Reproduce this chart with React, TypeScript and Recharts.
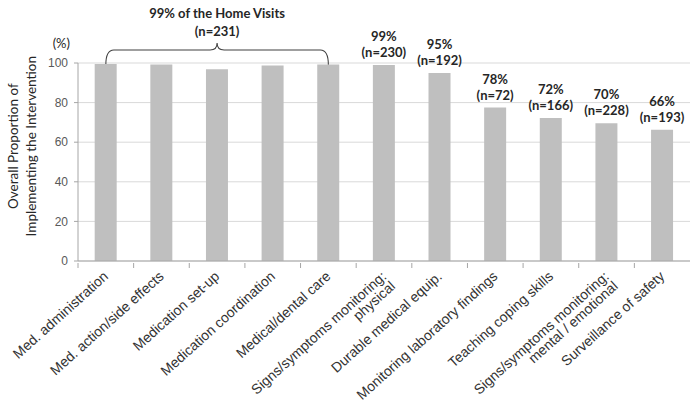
import React from 'react';
import { BarChart, Bar, XAxis, YAxis, CartesianGrid, LabelList, ReferenceArea } from 'recharts';

const categories = [
  'Med. administration',
  'Med. action/side effects',
  'Medication set-up',
  'Medication coordination',
  'Medical/dental care',
  'Signs/symptoms monitoring:\nphysical',
  'Durable medical equip.',
  'Monitoring laboratory findings',
  'Teaching coping skills',
  'Signs/symptoms monitoring:\nmental / emotional',
  'Surveillance of safety',
];
const values = [99.5, 99.3, 96.8, 98.7, 99.3, 99, 95, 77.5, 72.2, 69.6, 66.3];
const pctLabels = ['', '', '', '', '', '99%', '95%', '78%', '72%', '70%', '66%'];
const nLabels = ['', '', '', '', '', '(n=230)', '(n=192)', '(n=72)', '(n=166)', '(n=228)', '(n=193)'];
const yTicks = [0, 20, 40, 60, 80, 100];
const groupTitle = '99% of the Home Visits';
const groupN = '(n=231)';
const groupFirst = 0;
const groupLast = 4;
const yTitleLines = ['Overall Proportion of', 'Implementing the Intervention'];
const yUnit = '(%)';

const data = categories.map((name, i) => ({ name, value: values[i], pct: pctLabels[i], n: nLabels[i] }));

const BOLD_FONT = 'Lato, "Open Sans", sans-serif';
const AXIS_FONT = '"Liberation Sans", Arial, sans-serif';

const XTick = (props: any) => {
  const { x, y, payload } = props;
  const half = payload && payload.offset ? payload.offset : 27.8;
  const lines = String(payload.value).split('\n');
  const ax = x;
  const ay = y + 11;
  return (
    <g>
      <line x1={x - half} x2={x - half} y1={y} y2={y + 5} stroke="#a6a6a6" strokeWidth={1} />
      <text
        transform={`rotate(-42, ${ax}, ${ay})`}
        x={ax}
        y={ay}
        textAnchor="end"
        fontFamily={AXIS_FONT}
        fontSize={14}
        fill="#333333"
      >
        {lines.map((l, i) => (
          <tspan key={i} x={ax} dy={i === 0 ? '0.35em' : '0.95em'}>{l}</tspan>
        ))}
      </text>
    </g>
  );
};

const BarLabelPct = (props: any) => {
  const { x, y, width, value } = props;
  if (!value) return null;
  return (
    <text x={x + width / 2} y={y - 24} textAnchor="middle" fontFamily={BOLD_FONT} fontWeight={700} fontSize={13} fill="#262626">
      {value}
    </text>
  );
};

const BarLabelN = (props: any) => {
  const { x, y, width, value } = props;
  if (!value) return null;
  return (
    <text x={x + width / 2} y={y - 8} textAnchor="middle" fontFamily={BOLD_FONT} fontWeight={700} fontSize={13} fill="#262626">
      {value}
    </text>
  );
};

const BraceShape = (props: any) => {
  const { x, y, width, height } = props;
  const count = groupLast - groupFirst + 1;
  const bw = width / count;
  const L = x + bw / 2;
  const R = x + width - bw / 2;
  const B = y + height;
  const H = y - 13;
  const T = y - 20;
  const M = (L + R) / 2;
  const d = `M ${L} ${B} Q ${L} ${H} ${L + 8} ${H} L ${M - 7} ${H} Q ${M} ${H} ${M} ${T} Q ${M} ${H} ${M + 7} ${H} L ${R - 8} ${H} Q ${R} ${H} ${R} ${B}`;
  return (
    <g>
      <path d={d} fill="none" stroke="#404040" strokeWidth={1.1} />
      <text x={M} y={y - 45} textAnchor="middle" fontFamily={BOLD_FONT} fontWeight={700} fontSize={13} fill="#262626">
        {groupTitle}
      </text>
      <text x={M} y={y - 27} textAnchor="middle" fontFamily={BOLD_FONT} fontWeight={700} fontSize={13} fill="#262626">
        {groupN}
      </text>
    </g>
  );
};

const YTitle = (props: any) => {
  const vb = props.viewBox || { x: 0, y: 63, width: 78, height: 198 };
  const cy = vb.y + vb.height * 0.42;
  return (
    <g>
      <text transform={`rotate(-90, 18, ${cy})`} x={18} y={cy} textAnchor="middle" fontFamily={BOLD_FONT} fontSize={13.5} fill="#262626">
        {yTitleLines[0]}
      </text>
      <text transform={`rotate(-90, 36, ${cy})`} x={36} y={cy} textAnchor="middle" fontFamily={BOLD_FONT} fontSize={13.5} fill="#262626">
        {yTitleLines[1]}
      </text>
      <text x={vb.x + vb.width - 8} y={vb.y - 15} textAnchor="end" fontFamily={BOLD_FONT} fontSize={13} fill="#262626">
        {yUnit}
      </text>
    </g>
  );
};

export default function App() {
  return (
    <div style={{ position: 'absolute', left: 0, top: 0, width: 695, height: 402, background: '#fff' }}>
      <BarChart
        width={695}
        height={402}
        data={data}
        margin={{ top: 63, right: 5, left: 0, bottom: 0 }}
        barCategoryGap="30%"
      >
        <CartesianGrid vertical={false} stroke="#d9d9d9" />
        <XAxis
          dataKey="name"
          interval={0}
          height={141}
          tickSize={0}
          tickLine={false}
          axisLine={{ stroke: '#a6a6a6' }}
          tick={<XTick />}
        />
        <YAxis
          width={78}
          domain={[0, 100]}
          ticks={yTicks}
          tickSize={4}
          tickMargin={6}
          tickLine={{ stroke: '#a6a6a6' }}
          axisLine={{ stroke: '#a6a6a6' }}
          tick={{ fontFamily: AXIS_FONT, fontSize: 12, fill: '#595959' }}
          label={<YTitle />}
        />
        <ReferenceArea
          x1={categories[groupFirst]}
          x2={categories[groupLast]}
          y1={99}
          y2={100}
          ifOverflow="visible"
          shape={(p: any) => <BraceShape {...p} />}
        />
        <Bar dataKey="value" fill="#bfbfbf" isAnimationActive={false}>
          <LabelList dataKey="pct" content={<BarLabelPct />} />
          <LabelList dataKey="n" content={<BarLabelN />} />
        </Bar>
      </BarChart>
    </div>
  );
}
